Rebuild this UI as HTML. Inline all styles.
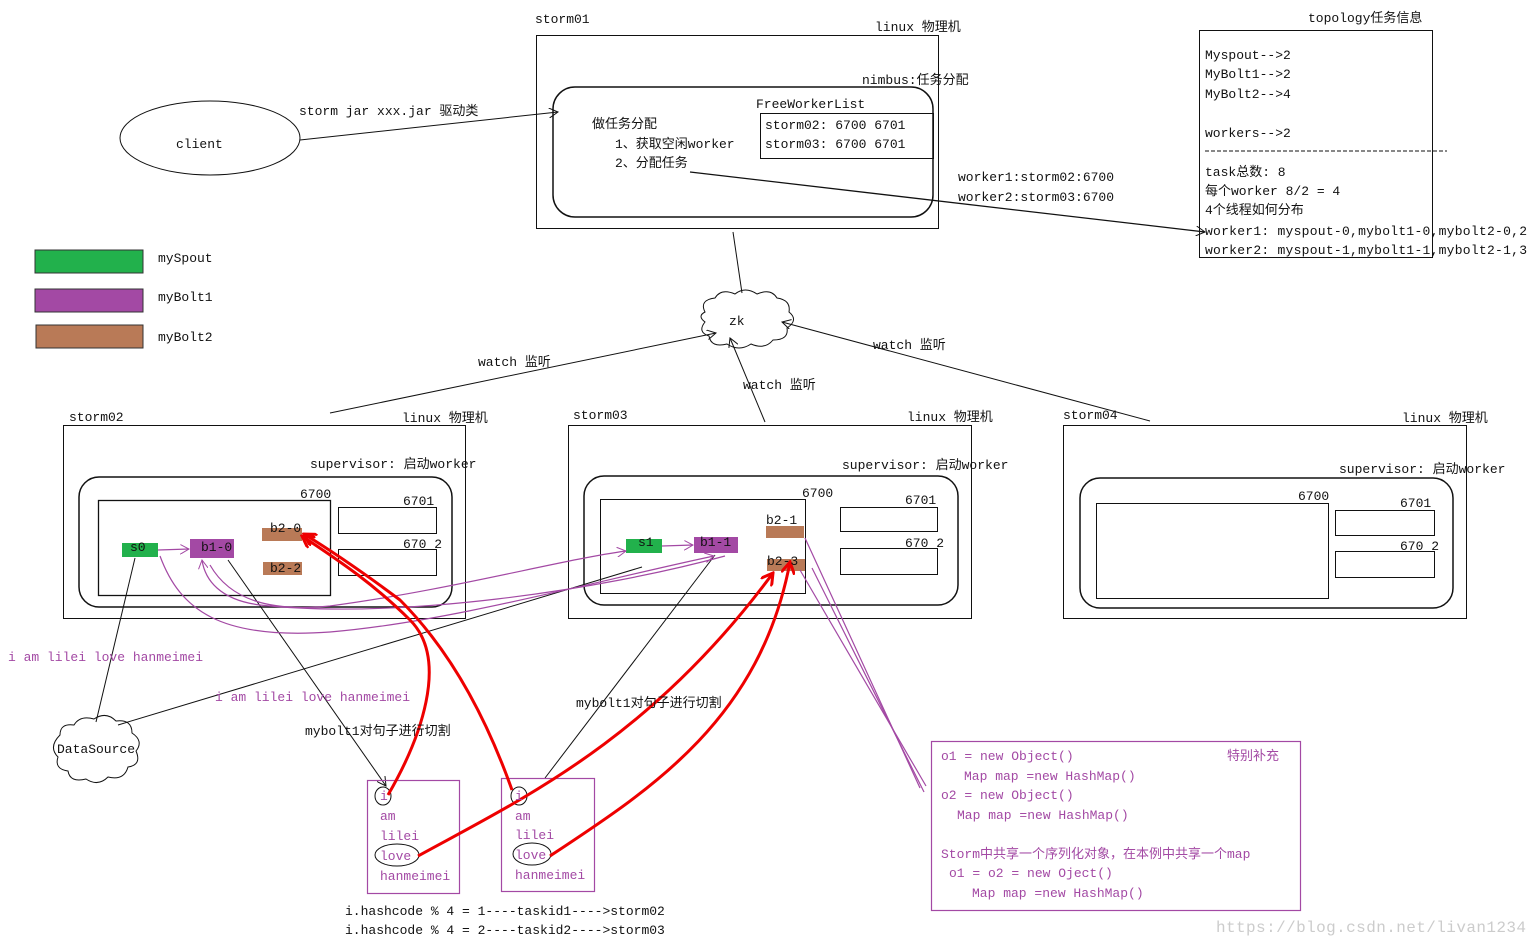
<!DOCTYPE html>
<html><head><meta charset="utf-8"><style>
html,body{margin:0;padding:0;background:#fff;}
svg{display:block;}
text{font-family:"Liberation Mono","Noto Sans CJK SC",monospace;font-size:13px;fill:#111;}
.p{fill:#a349a4;}
</style></head><body>
<svg width="1537" height="945" viewBox="0 0 1537 945" xmlns="http://www.w3.org/2000/svg">
<defs>
<marker id="ab" markerWidth="10" markerHeight="10" refX="9" refY="5" orient="auto" markerUnits="userSpaceOnUse"><path d="M0,0 L9,5 L0,10" fill="none" stroke="#111"/></marker>
<marker id="ap" markerWidth="10" markerHeight="10" refX="9" refY="5" orient="auto" markerUnits="userSpaceOnUse"><path d="M0,0 L9,5 L0,10" fill="none" stroke="#a349a4"/></marker>
<marker id="ar" markerWidth="14" markerHeight="14" refX="12" refY="7" orient="auto" markerUnits="userSpaceOnUse"><path d="M0,0 L12,7 L0,14" fill="none" stroke="#e00" stroke-width="3"/></marker>
</defs>
<g fill="none" stroke="#111" stroke-width="1">
<rect x="536.5" y="35.5" width="402" height="193"/>
<rect x="553" y="87" width="380" height="130" rx="22" stroke-width="1.5"/>
<rect x="760.5" y="113.5" width="173" height="45"/>
<ellipse cx="210" cy="138" rx="90" ry="37"/>
<line x1="300" y1="140" x2="558" y2="112" marker-end="url(#ab)"/>
<line x1="690" y1="172" x2="1205" y2="232" marker-end="url(#ab)" stroke-width="1.3"/>
<rect x="1199.5" y="30.5" width="233" height="227"/>
<line x1="1205" y1="151" x2="1447" y2="151" stroke-dasharray="4,2"/>
<path d="M705,312 q-6,-12 10,-14 q6,-10 20,-4 q10,-8 22,0 q14,-6 20,4 q14,2 12,14 q10,8 -2,16 q2,12 -14,12 q-8,10 -22,4 q-12,8 -24,0 q-16,4 -18,-8 q-12,-4 -4,-14 q-8,-6 0,-10z"/>
<line x1="733" y1="232" x2="742" y2="293"/>
<line x1="330" y1="413" x2="716" y2="333" marker-end="url(#ab)"/>
<line x1="765" y1="422" x2="730" y2="338" marker-end="url(#ab)"/>
<line x1="1150" y1="421" x2="782" y2="322" marker-end="url(#ab)"/>
<rect x="63.5" y="425.5" width="402" height="193"/>
<rect x="79" y="477" width="373" height="130" rx="20" stroke-width="1.5"/>
<rect x="98.5" y="500.5" width="232" height="95" stroke-width="1.3"/>
<rect x="338.5" y="507.5" width="98" height="26"/>
<rect x="338.5" y="549.5" width="98" height="26"/>
<rect x="568.5" y="425.5" width="403" height="193"/>
<rect x="584" y="476" width="374" height="129" rx="20" stroke-width="1.5"/>
<rect x="600.5" y="499.5" width="205" height="94"/>
<rect x="840.5" y="507.5" width="97" height="24"/>
<rect x="840.5" y="548.5" width="97" height="26"/>
<rect x="1063.5" y="425.5" width="403" height="193"/>
<rect x="1080" y="478" width="373" height="130" rx="20" stroke-width="1.5"/>
<rect x="1096.5" y="503.5" width="232" height="95"/>
<rect x="1335.5" y="510.5" width="99" height="25"/>
<rect x="1335.5" y="551.5" width="99" height="26"/>
<path d="M60,735 q0,-12 14,-10 q6,-10 20,-6 q12,-8 22,2 q16,-2 16,12 q12,8 4,18 q6,14 -8,16 q-4,14 -20,10 q-10,10 -22,2 q-16,4 -18,-8 q-14,-2 -10,-14 q-10,-10 2,-22z"/>
<line x1="96" y1="722" x2="135" y2="558"/>
<line x1="118" y1="725" x2="642" y2="567"/>
<line x1="228" y1="560" x2="386" y2="786" marker-end="url(#ab)"/>
<line x1="715" y1="555" x2="545" y2="778"/>
</g>
<rect x="35" y="250" width="108" height="23" fill="#22b14c" stroke="#333"/>
<rect x="35" y="289" width="108" height="23" fill="#a349a4" stroke="#333"/>
<rect x="36" y="325" width="107" height="23" fill="#b97a57" stroke="#333"/>
<rect x="122" y="543" width="36" height="14" fill="#22b14c"/>
<rect x="190" y="539" width="44" height="19" fill="#a349a4"/>
<rect x="262" y="528" width="40" height="13" fill="#b97a57"/>
<rect x="263" y="562" width="39" height="13" fill="#b97a57"/>
<rect x="626" y="539" width="36" height="14" fill="#22b14c"/>
<rect x="694" y="537" width="44" height="16" fill="#a349a4"/>
<rect x="766" y="526" width="38" height="12" fill="#b97a57"/>
<rect x="767" y="559" width="38" height="12" fill="#b97a57"/>
<g fill="none" stroke="#a349a4" stroke-width="1.2">
<line x1="158" y1="550" x2="189" y2="549" marker-end="url(#ap)"/>
<line x1="662" y1="546" x2="693" y2="545" marker-end="url(#ap)"/>
<path d="M160,556 C180,610 220,640 330,632 C450,622 600,580 714,556" marker-end="url(#ap)"/>
<path d="M725,556 C600,590 400,620 260,605 C220,600 205,580 202,560" marker-end="url(#ap)"/>
<path d="M210,565 C230,600 270,612 330,606 C450,590 560,560 626,551" marker-end="url(#ap)"/>
<path d="M805,538 L920,788"/>
<path d="M800,570 L926,786"/>
<path d="M812,568 L924,792"/>
<rect x="367.5" y="780.5" width="92" height="113"/>
<rect x="501.5" y="778.5" width="93" height="113"/>
<rect x="931.5" y="741.5" width="369" height="169"/>
</g>
<g fill="none" stroke="#111">
<ellipse cx="383" cy="796" rx="8" ry="9"/>
<ellipse cx="519" cy="796" rx="8" ry="9"/>
<ellipse cx="397" cy="855" rx="22" ry="11"/>
<ellipse cx="532" cy="854" rx="19" ry="11"/>
</g>
<g fill="none" stroke="#e00" stroke-width="3">
<path d="M388,795 C420,740 450,660 410,620 C370,580 330,555 302,536" marker-end="url(#ar)"/>
<path d="M512,790 C480,700 440,640 400,600 C360,570 330,550 304,534" marker-end="url(#ar)"/>
<path d="M418,856 C520,800 650,740 773,573" marker-end="url(#ar)"/>
<path d="M550,856 C650,790 760,720 790,562" marker-end="url(#ar)"/>
</g>
<text x="535" y="23">storm01</text>
<text x="875" y="31">linux 物理机</text>
<text x="862" y="84">nimbus:任务分配</text>
<text x="756" y="108">FreeWorkerList</text>
<text x="765" y="129">storm02: 6700 6701</text>
<text x="765" y="148">storm03: 6700 6701</text>
<text x="592" y="128">做任务分配</text>
<text x="615" y="148">1、获取空闲worker</text>
<text x="615" y="167">2、分配任务</text>
<text x="176" y="148">client</text>
<text x="299" y="115">storm jar xxx.jar 驱动类</text>
<text x="958" y="181">worker1:storm02:6700</text>
<text x="958" y="201">worker2:storm03:6700</text>
<text x="1308" y="22">topology任务信息</text>
<text x="1205" y="59">Myspout-->2</text>
<text x="1205" y="78">MyBolt1-->2</text>
<text x="1205" y="98">MyBolt2-->4</text>
<text x="1205" y="137">workers-->2</text>
<text x="1205" y="176">task总数: 8</text>
<text x="1205" y="195">每个worker 8/2 = 4</text>
<text x="1205" y="214">4个线程如何分布</text>
<text x="1205" y="235" textLength="322">worker1: myspout-0,mybolt1-0,mybolt2-0,2</text>
<text x="1205" y="254" textLength="322">worker2: myspout-1,mybolt1-1,mybolt2-1,3</text>
<text x="158" y="262">mySpout</text>
<text x="158" y="301">myBolt1</text>
<text x="158" y="341">myBolt2</text>
<text x="729" y="325">zk</text>
<text x="478" y="366">watch 监听</text>
<text x="743" y="389">watch 监听</text>
<text x="873" y="349">watch 监听</text>
<text x="69" y="421">storm02</text>
<text x="402" y="422">linux 物理机</text>
<text x="310" y="468">supervisor: 启动worker</text>
<text x="300" y="498">6700</text>
<text x="403" y="505">6701</text>
<text x="403" y="548">670 2</text>
<text x="130" y="551">s0</text>
<text x="201" y="551">b1-0</text>
<text x="270" y="532">b2-0</text>
<text x="270" y="572">b2-2</text>
<text x="573" y="419">storm03</text>
<text x="907" y="421">linux 物理机</text>
<text x="842" y="469">supervisor: 启动worker</text>
<text x="802" y="497">6700</text>
<text x="905" y="504">6701</text>
<text x="905" y="547">670 2</text>
<text x="638" y="546">s1</text>
<text x="700" y="546">b1-1</text>
<text x="766" y="524">b2-1</text>
<text x="767" y="565">b2-3</text>
<text x="1063" y="419">storm04</text>
<text x="1402" y="422">linux 物理机</text>
<text x="1339" y="473">supervisor: 启动worker</text>
<text x="1298" y="500">6700</text>
<text x="1400" y="507">6701</text>
<text x="1400" y="550">670 2</text>
<text x="8" y="661" class="p">i am lilei love hanmeimei</text>
<text x="215" y="701" class="p">i am lilei love hanmeimei</text>
<text x="57" y="753">DataSource</text>
<text x="305" y="735">mybolt1对句子进行切割</text>
<text x="576" y="707">mybolt1对句子进行切割</text>
<text x="380" y="800" class="p">i</text><text x="380" y="820" class="p">am</text><text x="380" y="840" class="p">lilei</text><text x="380" y="860" class="p">love</text><text x="380" y="880" class="p">hanmeimei</text>
<text x="515" y="800" class="p">i</text><text x="515" y="820" class="p">am</text><text x="515" y="839" class="p">lilei</text><text x="515" y="859" class="p">love</text><text x="515" y="879" class="p">hanmeimei</text>
<text x="345" y="915">i.hashcode % 4 = 1----taskid1---->storm02</text>
<text x="345" y="934">i.hashcode % 4 = 2----taskid2---->storm03</text>
<text x="941" y="760" class="p">o1 = new Object()</text>
<text x="1227" y="760" class="p">特别补充</text>
<text x="964" y="780" class="p">Map map =new HashMap()</text>
<text x="941" y="799" class="p">o2 = new Object()</text>
<text x="957" y="819" class="p">Map map =new HashMap()</text>
<text x="941" y="858" class="p">Storm中共享一个序列化对象，在本例中共享一个map</text>
<text x="949" y="877" class="p">o1 = o2 = new Oject()</text>
<text x="972" y="897" class="p">Map map =new HashMap()</text>
<text x="1216" y="932" textLength="310" style="fill:#ccc;font-size:16px">https://blog.csdn.net/livan1234</text>
</svg>
</body></html>
